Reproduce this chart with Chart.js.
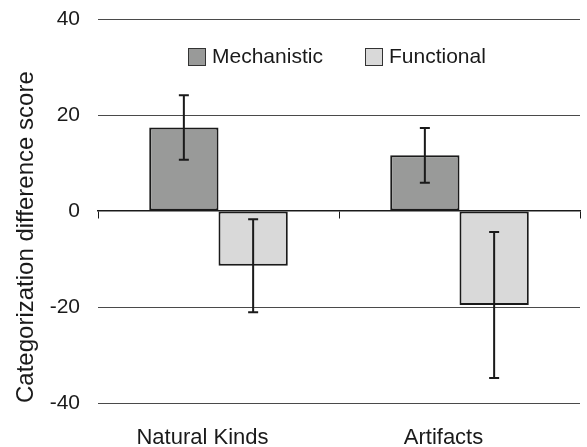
<!DOCTYPE html>
<html>
<head>
<meta charset="utf-8">
<script src="https://cdn.jsdelivr.net/npm/chart.js@4/dist/chart.umd.min.js"></script>
<style>
  html, body { margin: 0; padding: 0; background: #fff; }
  #wrap { width: 587px; height: 447px; }
</style>
</head>
<body>
<div id="wrap"><canvas id="chart"></canvas></div>
<script>
const categories = ['Natural Kinds', 'Artifacts'];
const mechanistic = [17.4, 11.6];
const mechanisticErr = [6.7, 5.7];
const functional = [-11.4, -19.6];
const functionalErr = [9.7, 15.2];
const yTicks = [-40, -20, 0, 20, 40];

const FONT = 'Arial, "Liberation Sans", Helvetica, sans-serif';

// error bars drawn from the y scale
const errorBars = {
    id: 'errorBars',
    afterDatasetsDraw(chart) {
        const { ctx, scales: { y } } = chart;
        const errs = [mechanisticErr, functionalErr];
        ctx.save();
        ctx.strokeStyle = '#1a1a1a';
        ctx.lineWidth = 2;
        chart.data.datasets.forEach((ds, di) => {
            const meta = chart.getDatasetMeta(di);
            meta.data.forEach((bar, i) => {
                const v = ds.data[i], e = errs[di][i];
                const x = bar.x;
                const yTop = y.getPixelForValue(v + e);
                const yBot = y.getPixelForValue(v - e);
                ctx.beginPath();
                ctx.moveTo(x, yTop); ctx.lineTo(x, yBot);
                ctx.moveTo(x - 5, yTop); ctx.lineTo(x + 5, yTop);
                ctx.moveTo(x - 5, yBot); ctx.lineTo(x + 5, yBot);
                ctx.stroke();
            });
        });
        ctx.restore();
    }
};

// legend sits inside the plot area, between the 40 and 20 lines
const innerLegend = {
    id: 'innerLegend',
    afterDraw(chart) {
        const { ctx } = chart;
        const items = [
            { x: 188, ds: chart.data.datasets[0] },
            { x: 365, ds: chart.data.datasets[1] }
        ];
        ctx.save();
        ctx.font = '21px ' + FONT;
        ctx.textBaseline = 'middle';
        items.forEach(it => {
            ctx.fillStyle = it.ds.backgroundColor;
            ctx.fillRect(it.x, 48, 17, 17);
            ctx.strokeStyle = '#333';
            ctx.lineWidth = 1;
            ctx.strokeRect(it.x + 0.5, 48.5, 17, 17);
            ctx.fillStyle = '#1a1a1a';
            ctx.fillText(it.ds.label, it.x + 24, 57);
        });
        ctx.restore();
    }
};

new Chart(document.getElementById('chart'), {
    type: 'bar',
    data: {
        labels: categories,
        datasets: [
            {
                label: 'Mechanistic',
                data: mechanistic,
                backgroundColor: '#999a99',
                borderColor: '#1a1a1a',
                borderWidth: 2,
                borderSkipped: false,
                categoryPercentage: 0.575,
                barPercentage: 1
            },
            {
                label: 'Functional',
                data: functional,
                backgroundColor: '#d9d9d9',
                borderColor: '#1a1a1a',
                borderWidth: 2,
                borderSkipped: false,
                categoryPercentage: 0.575,
                barPercentage: 1
            }
        ]
    },
    options: {
        responsive: true,
        maintainAspectRatio: false,
        animation: false,
        layout: { padding: { top: 19, right: 7, left: 0, bottom: 0 } },
        plugins: {
            legend: { display: false },
            tooltip: { enabled: false }
        },
        scales: {
            x: {
                grid: { display: false },
                border: { display: false },
                afterFit: s => { s.height = 44; s.paddingLeft = 0; s.paddingRight = 0; },
                ticks: {
                    color: '#1a1a1a',
                    font: { family: FONT, size: 22 },
                    padding: 14,
                    labelOffset: -16,
                    maxRotation: 0
                }
            },
            x2: {
                type: 'category',
                position: { y: 0 },
                afterFit: s => { s.height = 0; s.paddingLeft = 0; s.paddingRight = 0; },
                grid: { drawOnChartArea: false, tickLength: 7, color: '#1a1a1a', offset: true },
                border: { display: true, color: '#1a1a1a', width: 1.5 },
                ticks: { display: false }
            },
            y: {
                min: -40,
                max: 40,
                afterBuildTicks: axis => { axis.ticks = yTicks.map(v => ({ value: v })); },
                afterFit: s => { s.width = 98; s.paddingTop = 0; s.paddingBottom = 0; },
                grid: {
                    drawTicks: false,
                    color: ctx => ctx.tick && ctx.tick.value === 0 ? 'rgba(0,0,0,0)' : '#4a4a4a',
                    lineWidth: 1
                },
                border: { display: false },
                ticks: {
                    color: '#1a1a1a',
                    font: { family: FONT, size: 21 },
                    padding: 18
                },
                title: {
                    display: true,
                    text: 'Categorization difference score',
                    color: '#1a1a1a',
                    align: 'start',
                    font: { family: FONT, size: 24 },
                    padding: { top: 12, bottom: 2 }
                }
            }
        }
    },
    plugins: [errorBars, innerLegend]
});
</script>
</body>
</html>
